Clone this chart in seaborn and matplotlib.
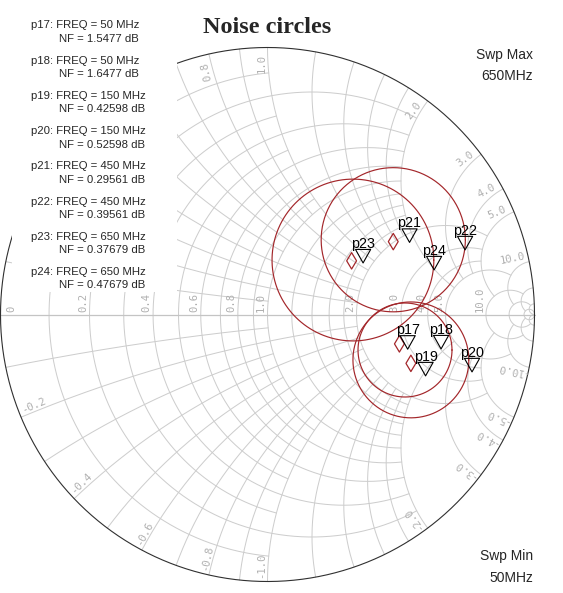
import numpy as np
import matplotlib
matplotlib.use("Agg")
import matplotlib.pyplot as plt
from matplotlib.path import Path
from matplotlib.patches import Rectangle
import seaborn as sns
import pandas as pd

# ---------------- data ----------------
marker_names = ["p17", "p18", "p19", "p20", "p21", "p22", "p23", "p24"]
marker_freq_mhz = [50, 50, 150, 150, 450, 450, 650, 650]
marker_nf_db = ["1.5477", "1.6477", "0.42598", "0.52598", "0.29561", "0.39561", "0.37679", "0.47679"]
marker_re = [0.525, 0.650, 0.592, 0.766, 0.532, 0.740, 0.358, 0.624]
marker_im = [-0.130, -0.129, -0.230, -0.215, 0.270, 0.242, 0.193, 0.167]

circle_freq_mhz = [50, 150, 450, 650]
circle_center_re = [0.515, 0.537, 0.471, 0.320]
circle_center_im = [-0.133, -0.170, 0.280, 0.204]
circle_radius = [0.176, 0.217, 0.270, 0.303]

opt_re = [0.494, 0.537, 0.471, 0.315]
opt_im = [-0.110, -0.183, 0.273, 0.201]

r_label_values = [0, 0.2, 0.4, 0.6, 0.8, 1.0, 2.0, 3.0, 4.0, 5.0, 10.0]
x_label_values = [0.2, 0.4, 0.6, 0.8, 1.0, 2.0, 3.0, 4.0, 5.0, 10.0]

title_text = "Noise circles"
swp_max_text = ["Swp Max", "650MHz"]
swp_min_text = ["Swp Min", "50MHz"]

# grid values and truncation limits
grid_vals = [0.1, 0.2, 0.3, 0.4, 0.5, 0.6, 0.7, 0.8, 0.9, 1.0,
             1.2, 1.4, 1.6, 1.8, 2.0, 3.0, 4.0, 5.0, 10.0, 20.0, 50.0]
grid_lims = [1, 2, 1, 2, 1, 2, 1, 2, 1, 2,
             2, 2, 2, 2, 5, 5, 5, 10, 20, 50, np.inf]

# ---------------- figure ----------------
W, H = 563, 593
CX, CY, R = 267.5, 314.5, 267.0

sns.set_style("white")
plt.rcParams["font.family"] = ["Liberation Sans", "DejaVu Sans"]

fig = plt.figure(figsize=(W / 100, H / 100), dpi=100)
ax = fig.add_axes([0, 0, 1, 1])
ax.set_xlim(-CX / R, (W - CX) / R)
ax.set_ylim((CY - H) / R, CY / R)
ax.set_aspect("equal")
ax.axis("off")


def px(x, y):
    return (x - CX) / R, (CY - y) / R


GRID_C = "#cdcdcd"
GRID_LW = 0.72


def gamma(z):
    return (z - 1) / (z + 1)


# resistance circles
for r, lim in zip(grid_vals, grid_lims):
    a = np.arctan(lim) if np.isfinite(lim) else np.pi / 2 - 1e-4
    xs = np.tan(np.linspace(-a, a, 1500))
    g = gamma(r + 1j * xs)
    ax.plot(g.real, g.imag, color=GRID_C, lw=GRID_LW, zorder=1)

# reactance arcs
for xv, lim in zip(grid_vals, grid_lims):
    a = np.arctan(lim) if np.isfinite(lim) else np.pi / 2 - 1e-4
    rs = np.tan(np.linspace(0, a, 1500))
    for s in (1, -1):
        g = gamma(rs + 1j * s * xv)
        ax.plot(g.real, g.imag, color=GRID_C, lw=GRID_LW, zorder=1)

# real axis
ax.plot([-1, 1], [0, 0], color="#c4c4c4", lw=0.9, zorder=1)
# outer circle
t = np.linspace(0, 2 * np.pi, 1000)
ax.plot(np.cos(t), np.sin(t), color="#303030", lw=0.8, zorder=2)

LAB_C = "#b0b0b0"
LAB_FONT = dict(family=["DejaVu Sans Mono"], fontsize=7.6, color=LAB_C)

# resistance labels
for r in r_label_values:
    gx = (r - 1) / (r + 1)
    lab = "0" if r == 0 else f"{r:.1f}"
    if r == 0:
        ax.text(gx + 6 / R, 3 / R, lab, rotation=90, ha="left", va="bottom", zorder=2, **LAB_FONT)
    else:
        ax.text(gx - 1.5 / R, 3 / R, lab, rotation=90, ha="right", va="bottom", zorder=2, **LAB_FONT)

# reactance labels
for xv in x_label_values:
    for s in (1, -1):
        alpha = s * (np.pi - 2 * np.arctan(xv))
        ex, ey = np.cos(alpha), np.sin(alpha)
        inward = np.array([-ex, -ey])
        if s > 0:
            perp = np.array([-np.sin(alpha), np.cos(alpha)])
            rot = np.degrees(alpha)
        else:
            perp = np.array([np.sin(alpha), -np.cos(alpha)])
            rot = np.degrees(alpha) + 180
        p = np.array([ex, ey]) + inward * 16 / R + perp * 6 / R
        lab = f"{s * xv:.1f}"
        ax.text(p[0], p[1], lab, rotation=rot, rotation_mode="anchor",
                ha="center", va="center", zorder=2, **LAB_FONT)

# legend box (white) covering grid in upper left
x0, y0 = px(12, 292)
x1, y1 = px(177, 0)
ax.add_patch(Rectangle((x0, y0), x1 - x0, y1 - y0, facecolor="white", edgecolor="none", zorder=3))

# noise circles
RED = "#a3262a"
rows = []
tt = np.linspace(0, 2 * np.pi, 400)
for f, cx, cy, rad in zip(circle_freq_mhz, circle_center_re, circle_center_im, circle_radius):
    for k, ang in enumerate(tt):
        rows.append({"freq": f, "k": k, "re": cx + rad * np.cos(ang), "im": cy + rad * np.sin(ang)})
df_c = pd.DataFrame(rows)
sns.lineplot(data=df_c, x="re", y="im", units="freq", estimator=None, sort=False,
             color=RED, lw=0.85, ax=ax, zorder=4, legend=False)

# optimum (diamonds)
df_o = pd.DataFrame({"re": opt_re, "im": opt_im})
sns.scatterplot(data=df_o, x="re", y="im", marker="d", s=70, facecolor="none",
                edgecolor=RED, linewidth=0.9, ax=ax, zorder=5, legend=False)

# markers (triangles with tip at point)
tri = Path([(-0.56, 1.0), (0.56, 1.0), (0.0, 0.0), (-0.56, 1.0)],
           [Path.MOVETO, Path.LINETO, Path.LINETO, Path.CLOSEPOLY])
df_m = pd.DataFrame({"name": marker_names, "re": marker_re, "im": marker_im})
sns.scatterplot(data=df_m, x="re", y="im", marker=tri, s=380, facecolor="none",
                edgecolor="black", linewidth=0.8, ax=ax, zorder=6, legend=False)
for name, xr, yi in zip(marker_names, marker_re, marker_im):
    ax.annotate(name, (xr, yi), xytext=(0, 11.0), textcoords="offset points",
                ha="center", va="baseline", fontsize=10.3, color="black", zorder=7)

# legend text
for i, (n, f, nf) in enumerate(zip(marker_names, marker_freq_mhz, marker_nf_db)):
    yb = 28.5 + 35.2 * i
    fig.text(31 / W, 1 - yb / H, f"{n}: FREQ = {f} MHz", fontsize=8.2, ha="left", va="baseline", zorder=8)
    fig.text(59 / W, 1 - (yb + 13.5) / H, f"NF = {nf} dB", fontsize=8.2, ha="left", va="baseline", zorder=8)

# sweep text
fig.text(533 / W, 1 - 59 / H, swp_max_text[0], fontsize=10, ha="right", va="baseline")
fig.text(533 / W, 1 - 80 / H, swp_max_text[1], fontsize=10, ha="right", va="baseline")
fig.text(533 / W, 1 - 560 / H, swp_min_text[0], fontsize=10, ha="right", va="baseline")
fig.text(533 / W, 1 - 581.5 / H, swp_min_text[1], fontsize=10, ha="right", va="baseline")

# title
fig.text(267 / W, 1 - 33 / H, title_text, fontsize=17.5, fontweight="bold",
         family=["Liberation Serif", "DejaVu Serif"], ha="center", va="baseline")

fig.savefig("out.png", dpi=100, facecolor="white")
